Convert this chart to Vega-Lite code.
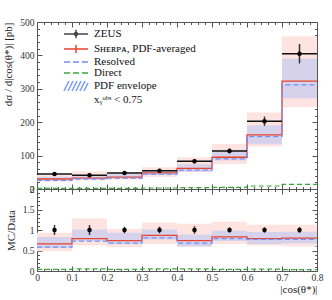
{
  "$schema": "https://vega.github.io/schema/vega-lite/v6.json",
  "padding": {"left": 2, "top": 16, "right": 5, "bottom": 2},
  "spacing": 0,
  "bounds": "flush",
  "config": {
    "view": {"stroke": "#555", "strokeWidth": 1},
    "font": "Liberation Serif",
    "axis": {"domain": false, "grid": false, "tickColor": "#555", "tickWidth": 1, "labelFont": "Liberation Serif", "labelFontSize": 9.5, "labelColor": "#333", "titleFont": "Liberation Serif", "titleFontWeight": "normal", "titleFontSize": 11, "titleColor": "#222", "labelFlush": false, "labelOverlap": false, "labelBound": false}
  },
  "datasets": {
    "bins": [
      {"lo": 0, "hi": 0.1, "c": 0.05, "data": 45, "dLo": 39.5, "dHi": 50.5, "pL": 21.6, "pH": 42, "eL": 25, "eH": 37, "rLo": 0.88, "rHi": 1.12, "rPL": 0.48, "rPH": 0.93, "rEL": 0.56, "rEH": 0.83},
      {"lo": 0.1, "hi": 0.2, "c": 0.15, "data": 41, "dLo": 36, "dHi": 46, "pL": 25.5, "pH": 52.5, "eL": 30, "eH": 41.5, "rLo": 0.88, "rHi": 1.12, "rPL": 0.62, "rPH": 1.28, "rEL": 0.73, "rEH": 1.01},
      {"lo": 0.2, "hi": 0.3, "c": 0.25, "data": 48, "dLo": 44, "dHi": 52, "pL": 28, "pH": 49.5, "eL": 32, "eH": 44.5, "rLo": 0.92, "rHi": 1.08, "rPL": 0.58, "rPH": 1.03, "rEL": 0.66, "rEH": 0.93},
      {"lo": 0.3, "hi": 0.4, "c": 0.35, "data": 55, "dLo": 50.5, "dHi": 59.5, "pL": 36, "pH": 65, "eL": 42, "eH": 55.5, "rLo": 0.92, "rHi": 1.08, "rPL": 0.66, "rPH": 1.18, "rEL": 0.77, "rEH": 1.01},
      {"lo": 0.4, "hi": 0.5, "c": 0.45, "data": 83, "dLo": 76, "dHi": 90, "pL": 50, "pH": 95, "eL": 52, "eH": 74, "rLo": 0.91, "rHi": 1.09, "rPL": 0.6, "rPH": 1.15, "rEL": 0.6, "rEH": 0.89},
      {"lo": 0.5, "hi": 0.6, "c": 0.55, "data": 114, "dLo": 106.5, "dHi": 121.5, "pL": 75, "pH": 135, "eL": 85, "eH": 115, "rLo": 0.935, "rHi": 1.065, "rPL": 0.66, "rPH": 1.2, "rEL": 0.73, "rEH": 0.98},
      {"lo": 0.6, "hi": 0.7, "c": 0.65, "data": 203, "dLo": 189, "dHi": 217, "pL": 127, "pH": 229, "eL": 134, "eH": 190, "rLo": 0.935, "rHi": 1.065, "rPL": 0.62, "rPH": 1.13, "rEL": 0.66, "rEH": 0.95},
      {"lo": 0.7, "hi": 0.8, "c": 0.75, "data": 405, "dLo": 376, "dHi": 434, "pL": 245, "pH": 457, "eL": 272, "eH": 390, "rLo": 0.93, "rHi": 1.07, "rPL": 0.6, "rPH": 1.13, "rEL": 0.67, "rEH": 0.96}
    ],
    "steps": [
      {"x": 0, "s": 30, "r": 26, "d": 2, "rs": 0.66, "rr": 0.58, "rd": 0.04},
      {"x": 0.1, "s": 32.5, "r": 30, "d": 2, "rs": 0.79, "rr": 0.73, "rd": 0.05},
      {"x": 0.2, "s": 35.5, "r": 32.5, "d": 2, "rs": 0.74, "rr": 0.68, "rd": 0.04},
      {"x": 0.3, "s": 48, "r": 44.5, "d": 3, "rs": 0.87, "rr": 0.81, "rd": 0.05},
      {"x": 0.4, "s": 61.5, "r": 56.5, "d": 4, "rs": 0.74, "rr": 0.68, "rd": 0.05},
      {"x": 0.5, "s": 95, "r": 90, "d": 5, "rs": 0.83, "rr": 0.79, "rd": 0.04},
      {"x": 0.6, "s": 162, "r": 157, "d": 9, "rs": 0.79, "rr": 0.77, "rd": 0.045},
      {"x": 0.7, "s": 323, "r": 312, "d": 14, "rs": 0.8, "rr": 0.77, "rd": 0.035},
      {"x": 0.8, "s": 323, "r": 312, "d": 14, "rs": 0.8, "rr": 0.77, "rd": 0.035}
    ],
    "leg": [
      {"s": "ZEUS"},
      {"s": "Sʜᴇʀᴘᴀ, PDF-averaged"},
      {"s": "Resolved"},
      {"s": "Direct"},
      {"s": "PDF envelope"},
      {"s": "xᵧᵒᵇˢ < 0.75"}
    ]
  },
  "vconcat": [
    {
      "width": 280,
      "height": 167,
      "resolve": {"axis": {"x": "independent", "y": "independent"}},
      "layer": [
        {
          "data": {"name": "bins"},
          "mark": {"type": "rect", "fill": "#fde4e0"},
          "encoding": {
            "x": {"field": "lo", "type": "quantitative", "scale": {"domain": [0, 0.8], "nice": false, "zero": false},
              "axis": {"orient": "bottom", "values": [0, 0.1, 0.2, 0.3, 0.4, 0.5, 0.6, 0.7, 0.8], "labels": false, "tickSize": -5, "title": null}},
            "x2": {"field": "hi"},
            "y": {"field": "pL", "type": "quantitative", "scale": {"domain": [0, 500], "nice": false},
              "axis": {"orient": "left", "values": [0, 100, 200, 300, 400, 500], "tickSize": -5, "labelPadding": 8, "format": "d", "title": "dσ / d|cos(θ*)| [pb]", "titleAnchor": "end", "titlePadding": 6}},
            "y2": {"field": "pH"}
          }
        },
        {
          "data": {"name": "bins"},
          "mark": {"type": "rect", "fill": "#a9bdfb", "opacity": 0.45},
          "encoding": {
            "x": {"field": "lo", "type": "quantitative",
              "axis": {"orient": "bottom", "values": [0.02, 0.04, 0.06, 0.08, 0.12, 0.14, 0.16, 0.18, 0.22, 0.24, 0.26, 0.28, 0.32, 0.34, 0.36, 0.38, 0.42, 0.44, 0.46, 0.48, 0.52, 0.54, 0.56, 0.58, 0.62, 0.64, 0.66, 0.68, 0.72, 0.74, 0.76, 0.78], "labels": false, "tickSize": -2.5, "title": null}},
            "x2": {"field": "hi"},
            "y": {"field": "eL", "type": "quantitative",
              "axis": {"orient": "left", "values": [20, 40, 60, 80, 120, 140, 160, 180, 220, 240, 260, 280, 320, 340, 360, 380, 420, 440, 460, 480], "labels": false, "tickSize": -2.5, "title": null}},
            "y2": {"field": "eH"}
          }
        },
        {
          "data": {"name": "steps"},
          "mark": {"type": "line", "interpolate": "step-after", "color": "#3aa83a", "strokeWidth": 1.2, "strokeDash": [5, 3]},
          "encoding": {
            "x": {"field": "x", "type": "quantitative",
              "axis": {"orient": "top", "values": [0, 0.1, 0.2, 0.3, 0.4, 0.5, 0.6, 0.7, 0.8], "labels": false, "tickSize": -5, "title": null}},
            "y": {"field": "d", "type": "quantitative",
              "axis": {"orient": "right", "values": [0, 100, 200, 300, 400, 500], "labels": false, "tickSize": -5, "title": null}}
          }
        },
        {
          "data": {"name": "steps"},
          "mark": {"type": "line", "interpolate": "step-after", "color": "#e8432d", "strokeWidth": 1.3},
          "encoding": {
            "x": {"field": "x", "type": "quantitative",
              "axis": {"orient": "top", "values": [0.02, 0.04, 0.06, 0.08, 0.12, 0.14, 0.16, 0.18, 0.22, 0.24, 0.26, 0.28, 0.32, 0.34, 0.36, 0.38, 0.42, 0.44, 0.46, 0.48, 0.52, 0.54, 0.56, 0.58, 0.62, 0.64, 0.66, 0.68, 0.72, 0.74, 0.76, 0.78], "labels": false, "tickSize": -2.5, "title": null}},
            "y": {"field": "s", "type": "quantitative",
              "axis": {"orient": "right", "values": [20, 40, 60, 80, 120, 140, 160, 180, 220, 240, 260, 280, 320, 340, 360, 380, 420, 440, 460, 480], "labels": false, "tickSize": -2.5, "title": null}}
          }
        },
        {
          "data": {"name": "steps"},
          "mark": {"type": "line", "interpolate": "step-after", "color": "#6f8ff7", "strokeWidth": 1.3, "strokeDash": [5, 3]},
          "encoding": {
            "x": {"field": "x", "type": "quantitative", "axis": null},
            "y": {"field": "r", "type": "quantitative", "axis": null}
          }
        },
        {
          "data": {"name": "bins"},
          "mark": {"type": "rule", "color": "#111", "strokeWidth": 1.5},
          "encoding": {
            "x": {"field": "lo", "type": "quantitative", "axis": null},
            "x2": {"field": "hi"},
            "y": {"field": "data", "type": "quantitative", "axis": null}
          }
        },
        {
          "data": {"name": "bins"},
          "mark": {"type": "rule", "color": "#333", "strokeWidth": 1.5},
          "encoding": {
            "x": {"field": "c", "type": "quantitative", "axis": null},
            "y": {"field": "dLo", "type": "quantitative", "axis": null},
            "y2": {"field": "dHi"}
          }
        },
        {
          "data": {"name": "bins"},
          "mark": {"type": "circle", "color": "#000", "size": 20, "opacity": 1},
          "encoding": {
            "x": {"field": "c", "type": "quantitative", "axis": null},
            "y": {"field": "data", "type": "quantitative", "axis": null}
          }
        },
        {
          "data": {"name": "leg"},
          "mark": {"type": "point", "opacity": 0, "filled": false},
          "encoding": {
            "shape": {"field": "s", "type": "nominal",
              "scale": {"domain": ["ZEUS", "Sʜᴇʀᴘᴀ, PDF-averaged", "Resolved", "Direct", "PDF envelope", "xᵧᵒᵇˢ < 0.75"],
                "range": ["M-2.4,0H2.4M0,-0.85V0.85M0.3,0A0.3,0.3,0,1,1,-0.3,0A0.3,0.3,0,1,1,0.3,0", "M-2.4,0H2.4M0,-0.8V0.8", "M-2.4,0H2.4", "M-2.4,0H2.4", "M-2.4,1L-1.4,-1M-1.6,1L-0.6,-1M-0.8,1L0.2,-1M0,1L1,-1M0.8,1L1.8,-1M1.6,1L2.4,-0.6", "M0,0"]},
              "legend": {"title": null, "orient": "none", "legendX": 33, "legendY": 6, "symbolSize": 100, "symbolStrokeWidth": 1.5, "symbolOpacity": 1, "labelFont": "Liberation Serif", "labelFontSize": 11, "labelColor": "#111", "labelOffset": 12, "rowPadding": 0, "padding": 0, "labelLimit": 200}},
            "stroke": {"field": "s", "type": "nominal",
              "scale": {"domain": ["ZEUS", "Sʜᴇʀᴘᴀ, PDF-averaged", "Resolved", "Direct", "PDF envelope", "xᵧᵒᵇˢ < 0.75"],
                "range": ["#444", "#e8432d", "#6f8ff7", "#3aa83a", "#7f9cf5", "#000"]},
              "legend": {"title": null, "orient": "none", "legendX": 33, "legendY": 6, "symbolSize": 100, "symbolStrokeWidth": 1.5, "symbolOpacity": 1, "labelFont": "Liberation Serif", "labelFontSize": 11, "labelColor": "#111", "labelOffset": 12, "rowPadding": 0, "padding": 0, "labelLimit": 200}},
            "fill": {"field": "s", "type": "nominal",
              "scale": {"domain": ["ZEUS", "Sʜᴇʀᴘᴀ, PDF-averaged", "Resolved", "Direct", "PDF envelope", "xᵧᵒᵇˢ < 0.75"],
                "range": ["#000", "transparent", "transparent", "transparent", "transparent", "transparent"]},
              "legend": {"title": null, "orient": "none", "legendX": 33, "legendY": 6, "symbolSize": 100, "symbolStrokeWidth": 1.5, "symbolOpacity": 1, "labelFont": "Liberation Serif", "labelFontSize": 11, "labelColor": "#111", "labelOffset": 12, "rowPadding": 0, "padding": 0, "labelLimit": 200}},
            "strokeDash": {"field": "s", "type": "nominal",
              "scale": {"domain": ["ZEUS", "Sʜᴇʀᴘᴀ, PDF-averaged", "Resolved", "Direct", "PDF envelope", "xᵧᵒᵇˢ < 0.75"],
                "range": [[1, 0], [1, 0], [6, 3], [6, 3], [1, 0], [1, 0]]},
              "legend": {"title": null, "orient": "none", "legendX": 33, "legendY": 6, "symbolSize": 100, "symbolStrokeWidth": 1.5, "symbolOpacity": 1, "labelFont": "Liberation Serif", "labelFontSize": 11, "labelColor": "#111", "labelOffset": 12, "rowPadding": 0, "padding": 0, "labelLimit": 200}}
          }
        }
      ]
    },
    {
      "width": 280,
      "height": 82,
      "resolve": {"axis": {"x": "independent", "y": "independent"}},
      "layer": [
        {
          "data": {"name": "bins"},
          "mark": {"type": "rect", "fill": "#fde4e0"},
          "encoding": {
            "x": {"field": "lo", "type": "quantitative", "scale": {"domain": [0, 0.8], "nice": false, "zero": false},
              "axis": {"orient": "bottom", "values": [0, 0.1, 0.2, 0.3, 0.4, 0.5, 0.6, 0.7, 0.8], "format": "~g", "tickSize": -5, "labelPadding": 6, "title": "|cos(θ*)|", "titleAnchor": "end", "titlePadding": 2}},
            "x2": {"field": "hi"},
            "y": {"field": "rPL", "type": "quantitative", "scale": {"domain": [0, 2], "nice": false},
              "axis": {"orient": "left", "values": [0, 0.5, 1, 1.5, 2], "format": "~g", "tickSize": -5, "labelPadding": 8, "title": "MC/Data", "titlePadding": 6}},
            "y2": {"field": "rPH"}
          }
        },
        {
          "data": {"name": "bins"},
          "mark": {"type": "rect", "fill": "#a9bdfb", "opacity": 0.45},
          "encoding": {
            "x": {"field": "lo", "type": "quantitative",
              "axis": {"orient": "bottom", "values": [0.02, 0.04, 0.06, 0.08, 0.12, 0.14, 0.16, 0.18, 0.22, 0.24, 0.26, 0.28, 0.32, 0.34, 0.36, 0.38, 0.42, 0.44, 0.46, 0.48, 0.52, 0.54, 0.56, 0.58, 0.62, 0.64, 0.66, 0.68, 0.72, 0.74, 0.76, 0.78], "labels": false, "tickSize": -2.5, "title": null}},
            "x2": {"field": "hi"},
            "y": {"field": "rEL", "type": "quantitative",
              "axis": {"orient": "left", "values": [0.1, 0.2, 0.3, 0.4, 0.6, 0.7, 0.8, 0.9, 1.1, 1.2, 1.3, 1.4, 1.6, 1.7, 1.8, 1.9], "labels": false, "tickSize": -2.5, "title": null}},
            "y2": {"field": "rEH"}
          }
        },
        {
          "mark": {"type": "rule", "color": "#777", "strokeWidth": 2},
          "encoding": {
            "y": {"datum": 1, "type": "quantitative", "axis": null}
          }
        },
        {
          "data": {"name": "steps"},
          "mark": {"type": "line", "interpolate": "step-after", "color": "#3aa83a", "strokeWidth": 1.2, "strokeDash": [5, 3]},
          "encoding": {
            "x": {"field": "x", "type": "quantitative",
              "axis": {"orient": "top", "values": [0, 0.1, 0.2, 0.3, 0.4, 0.5, 0.6, 0.7, 0.8], "labels": false, "tickSize": -5, "title": null}},
            "y": {"field": "rd", "type": "quantitative",
              "axis": {"orient": "right", "values": [0, 0.5, 1, 1.5, 2], "labels": false, "tickSize": -5, "title": null}}
          }
        },
        {
          "data": {"name": "steps"},
          "mark": {"type": "line", "interpolate": "step-after", "color": "#e8432d", "strokeWidth": 1.3},
          "encoding": {
            "x": {"field": "x", "type": "quantitative",
              "axis": {"orient": "top", "values": [0.02, 0.04, 0.06, 0.08, 0.12, 0.14, 0.16, 0.18, 0.22, 0.24, 0.26, 0.28, 0.32, 0.34, 0.36, 0.38, 0.42, 0.44, 0.46, 0.48, 0.52, 0.54, 0.56, 0.58, 0.62, 0.64, 0.66, 0.68, 0.72, 0.74, 0.76, 0.78], "labels": false, "tickSize": -2.5, "title": null}},
            "y": {"field": "rs", "type": "quantitative",
              "axis": {"orient": "right", "values": [0.1, 0.2, 0.3, 0.4, 0.6, 0.7, 0.8, 0.9, 1.1, 1.2, 1.3, 1.4, 1.6, 1.7, 1.8, 1.9], "labels": false, "tickSize": -2.5, "title": null}}
          }
        },
        {
          "data": {"name": "steps"},
          "mark": {"type": "line", "interpolate": "step-after", "color": "#6f8ff7", "strokeWidth": 1.3, "strokeDash": [5, 3]},
          "encoding": {
            "x": {"field": "x", "type": "quantitative", "axis": null},
            "y": {"field": "rr", "type": "quantitative", "axis": null}
          }
        },
        {
          "data": {"name": "bins"},
          "mark": {"type": "rule", "color": "#333", "strokeWidth": 1.5},
          "encoding": {
            "x": {"field": "c", "type": "quantitative", "axis": null},
            "y": {"field": "rLo", "type": "quantitative", "axis": null},
            "y2": {"field": "rHi"}
          }
        },
        {
          "data": {"name": "bins"},
          "mark": {"type": "circle", "color": "#000", "size": 20, "opacity": 1},
          "encoding": {
            "x": {"field": "c", "type": "quantitative", "axis": null},
            "y": {"datum": 1, "type": "quantitative", "axis": null}
          }
        }
      ]
    }
  ]
}
